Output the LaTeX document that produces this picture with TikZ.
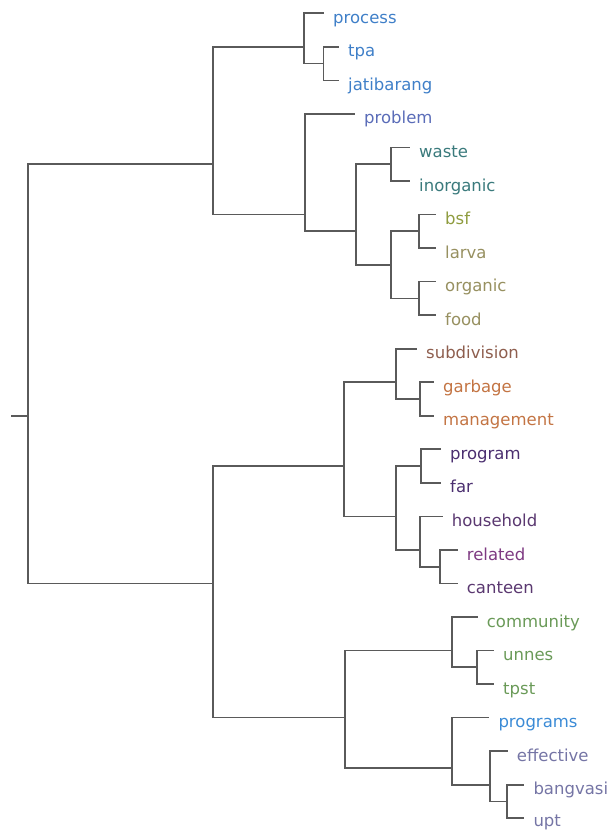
\documentclass[tikz,border=0pt]{standalone}
\usepackage{fontspec}
\setmainfont{DejaVu Sans}
\definecolor{cblue}{HTML}{3F7FC8}
\definecolor{cprob}{HTML}{5A6CB8}
\definecolor{cteal}{HTML}{3A7A7C}
\definecolor{cbsf}{HTML}{8F9C3F}
\definecolor{colive}{HTML}{979060}
\definecolor{csub}{HTML}{8E5E4E}
\definecolor{corange}{HTML}{C37443}
\definecolor{cdpurp}{HTML}{4B2F70}
\definecolor{cpurp}{HTML}{5A3870}
\definecolor{cmag}{HTML}{7E3A82}
\definecolor{cgreen}{HTML}{6A9A58}
\definecolor{cprogs}{HTML}{3B8BD6}
\definecolor{cgrey}{HTML}{7575A5}
\definecolor{cline}{HTML}{5A5A5A}
\begin{document}
\begin{tikzpicture}[x=1pt,y=-1pt,
  branch/.style={draw=cline,line width=1.7pt,line cap=rect},
  leaf/.style={anchor=base west,inner sep=0pt,font=\fontsize{16.5}{18}\selectfont,xshift=10pt,yshift=-10pt}]
\useasboundingbox (0,0) rectangle (610,832);
% internal nodes (x, join y)
\coordinate (stub) at (12,415.8);
\coordinate (R) at (28,415.8);
\coordinate (A) at (213,164.2);
\coordinate (A1) at (304,46.84);
\coordinate (A11) at (323.5,63.6);
\coordinate (A2) at (305,214.5);
\coordinate (A21) at (356,231.3);
\coordinate (A211) at (391,164.2);
\coordinate (A212) at (391,264.8);
\coordinate (A2121) at (419,231.3);
\coordinate (A2122) at (419,298.4);
\coordinate (B) at (213,583.5);
\coordinate (B1) at (344,466.1);
\coordinate (B11) at (396,382.2);
\coordinate (B111) at (420,399.0);
\coordinate (B12) at (396,516.4);
\coordinate (B121) at (421,466.1);
\coordinate (B122) at (420,550.0);
\coordinate (B1221) at (440,566.7);
\coordinate (B2) at (345,717.6);
\coordinate (B21) at (451.7,650.6);
\coordinate (B211) at (476.7,667.3);
\coordinate (B22) at (451.7,768.0);
\coordinate (B221) at (490,784.7);
\coordinate (B2211) at (506.7,801.5);
% leaf tips
\coordinate (tprocess) at (323,13.3);
\coordinate (ttpa) at (338,46.84);
\coordinate (tjati) at (338,80.4);
\coordinate (tproblem) at (354,113.9);
\coordinate (twaste) at (409,147.5);
\coordinate (tinorg) at (409,181.0);
\coordinate (tbsf) at (435,214.5);
\coordinate (tlarva) at (435,248.1);
\coordinate (torganic) at (435,281.6);
\coordinate (tfood) at (435,315.2);
\coordinate (tsub) at (416,348.7);
\coordinate (tgarb) at (433,382.2);
\coordinate (tmanag) at (433,415.8);
\coordinate (tprogram) at (440,449.3);
\coordinate (tfar) at (440,482.9);
\coordinate (thouse) at (441.7,516.4);
\coordinate (trelated) at (456.7,550.0);
\coordinate (tcanteen) at (456.7,583.5);
\coordinate (tcomm) at (476.7,617.0);
\coordinate (tunnes) at (493,650.6);
\coordinate (ttpst) at (493,684.1);
\coordinate (tprogs) at (488.3,717.6);
\coordinate (teffect) at (506.7,751.2);
\coordinate (tbang) at (523.3,784.7);
\coordinate (tupt) at (523.3,818.3);
% labels
\node[leaf,text=cblue] (process) at (tprocess) {process};
\node[leaf,text=cblue] (tpa) at (ttpa) {tpa};
\node[leaf,text=cblue] (jatibarang) at (tjati) {jatibarang};
\node[leaf,text=cprob] (problem) at (tproblem) {problem};
\node[leaf,text=cteal] (waste) at (twaste) {waste};
\node[leaf,text=cteal] (inorganic) at (tinorg) {inorganic};
\node[leaf,text=cbsf] (bsf) at (tbsf) {bsf};
\node[leaf,text=colive] (larva) at (tlarva) {larva};
\node[leaf,text=colive] (organic) at (torganic) {organic};
\node[leaf,text=colive] (food) at (tfood) {food};
\node[leaf,text=csub] (subdivision) at (tsub) {subdivision};
\node[leaf,text=corange] (garbage) at (tgarb) {garbage};
\node[leaf,text=corange] (management) at (tmanag) {management};
\node[leaf,text=cdpurp] (program) at (tprogram) {program};
\node[leaf,text=cdpurp] (far) at (tfar) {far};
\node[leaf,text=cpurp] (household) at (thouse) {household};
\node[leaf,text=cmag] (related) at (trelated) {related};
\node[leaf,text=cpurp] (canteen) at (tcanteen) {canteen};
\node[leaf,text=cgreen] (community) at (tcomm) {community};
\node[leaf,text=cgreen] (unnes) at (tunnes) {unnes};
\node[leaf,text=cgreen] (tpst) at (ttpst) {tpst};
\node[leaf,text=cprogs] (programs) at (tprogs) {programs};
\node[leaf,text=cgrey] (effective) at (teffect) {effective};
\node[leaf,text=cgrey] (bangvasi) at (tbang) {bangvasi};
\node[leaf,text=cgrey,yshift=1.5pt] (upt) at (tupt) {upt};
% branches
\draw[branch] (stub) -- (R);
\draw[branch] (R) |- (A);
\draw[branch] (R) |- (B);
\draw[branch] (A) |- (A1);
\draw[branch] (A) |- (A2);
\draw[branch] (A1) |- (tprocess);
\draw[branch] (A1) |- (A11);
\draw[branch] (A11) |- (ttpa);
\draw[branch] (A11) |- (tjati);
\draw[branch] (A2) |- (tproblem);
\draw[branch] (A2) |- (A21);
\draw[branch] (A21) |- (A211);
\draw[branch] (A21) |- (A212);
\draw[branch] (A211) |- (twaste);
\draw[branch] (A211) |- (tinorg);
\draw[branch] (A212) |- (A2121);
\draw[branch] (A212) |- (A2122);
\draw[branch] (A2121) |- (tbsf);
\draw[branch] (A2121) |- (tlarva);
\draw[branch] (A2122) |- (torganic);
\draw[branch] (A2122) |- (tfood);
\draw[branch] (B) |- (B1);
\draw[branch] (B) |- (B2);
\draw[branch] (B1) |- (B11);
\draw[branch] (B1) |- (B12);
\draw[branch] (B11) |- (tsub);
\draw[branch] (B11) |- (B111);
\draw[branch] (B111) |- (tgarb);
\draw[branch] (B111) |- (tmanag);
\draw[branch] (B12) |- (B121);
\draw[branch] (B12) |- (B122);
\draw[branch] (B121) |- (tprogram);
\draw[branch] (B121) |- (tfar);
\draw[branch] (B122) |- (thouse);
\draw[branch] (B122) |- (B1221);
\draw[branch] (B1221) |- (trelated);
\draw[branch] (B1221) |- (tcanteen);
\draw[branch] (B2) |- (B21);
\draw[branch] (B2) |- (B22);
\draw[branch] (B21) |- (tcomm);
\draw[branch] (B21) |- (B211);
\draw[branch] (B211) |- (tunnes);
\draw[branch] (B211) |- (ttpst);
\draw[branch] (B22) |- (tprogs);
\draw[branch] (B22) |- (B221);
\draw[branch] (B221) |- (teffect);
\draw[branch] (B221) |- (B2211);
\draw[branch] (B2211) |- (tbang);
\draw[branch] (B2211) |- (tupt);
\end{tikzpicture}
\end{document}
